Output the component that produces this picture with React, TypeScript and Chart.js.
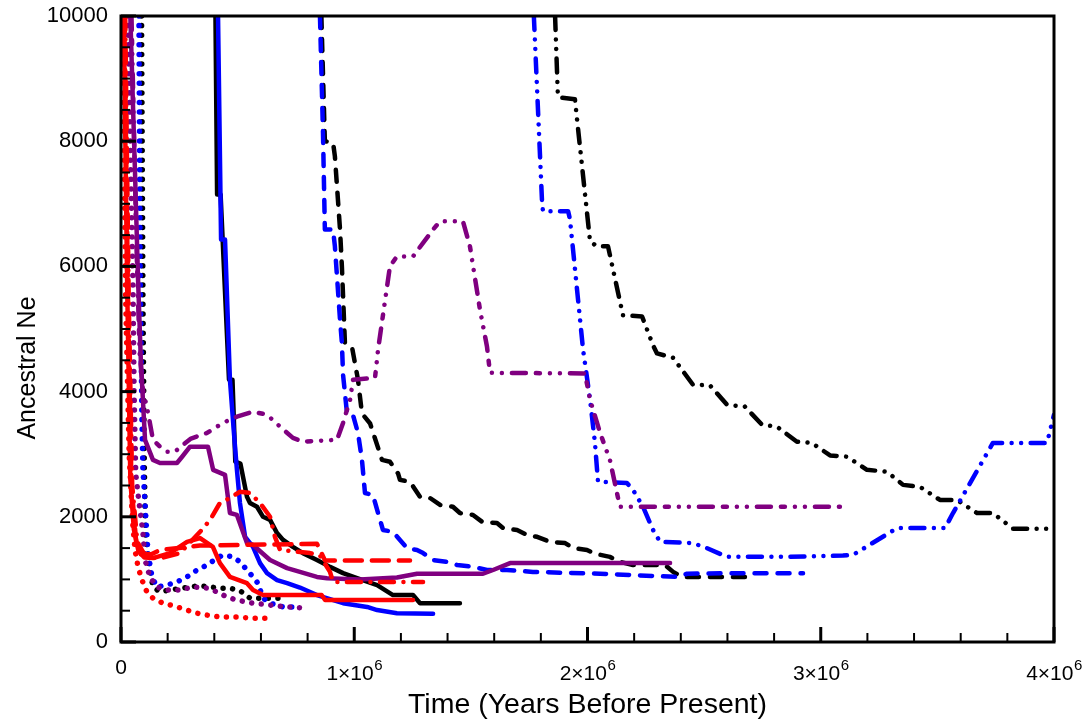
import React, { useEffect, useRef } from 'react';
import { Chart, registerables } from 'chart.js';

Chart.register(...registerables);

const FONT = "'Liberation Sans', Arial, Helvetica, sans-serif";

// ---- axis ticks / labels ----
const xTicks = [0, 1000000, 2000000, 3000000, 4000000];
const xTickBase = ['0', '1×10', '2×10', '3×10', '4×10'];
const xTickSup = ['', '6', '6', '6', '6'];
const yTicks = [0, 2000, 4000, 6000, 8000, 10000];
const yTickLabels = ['0', '2000', '4000', '6000', '8000', '10000'];
const xTitle = 'Time (Years Before Present)';
const yTitle = 'Ancestral Ne';

// ---- series: time (years before present) and ancestral Ne ----
const redSolidT = [12000, 26000, 40000, 55000, 75000, 100000, 137000, 210000, 283000, 339000, 394000, 424000, 467000, 540000, 566000, 609000, 860000, 875000, 1252000];
const redSolidNe = [10000, 5800, 2600, 1800, 1450, 1350, 1340, 1420, 1600, 1660, 1520, 1260, 1040, 940, 830, 750, 750, 670, 670];

const redDashDotT = [18000, 33000, 48000, 70000, 103000, 160000, 253000, 339000, 382000, 424000, 467000, 510000, 553000, 596000, 639000, 660000, 682000, 810000, 853000, 896000, 909000, 1295000];
const redDashDotNe = [10000, 5500, 2500, 1600, 1380, 1330, 1420, 1760, 1950, 2220, 2300, 2400, 2380, 2220, 2000, 1680, 1470, 1420, 1380, 1120, 960, 960];

const redDashedT = [15000, 30000, 45000, 65000, 81000, 130000, 167000, 339000, 840000, 875000, 1239000];
const redDashedNe = [10000, 5500, 2500, 1600, 1400, 1400, 1470, 1540, 1570, 1300, 1300];

const redDottedT = [8000, 20000, 35000, 50000, 60000, 73000, 90000, 111000, 137000, 180000, 223000, 283000, 326000, 369000, 424000, 497000, 566000, 656000];
const redDottedNe = [10000, 5500, 3000, 1900, 1470, 1200, 990, 800, 700, 620, 580, 510, 460, 430, 400, 400, 380, 380];

const purpleSolidT = [40000, 60000, 73000, 85000, 103000, 137000, 167000, 240000, 262000, 296000, 373000, 395000, 446000, 467000, 497000, 540000, 566000, 639000, 712000, 767000, 840000, 883000, 1025000, 1183000, 1269000, 1552000, 1595000, 1668000, 2354000];
const purpleSolidNe = [10000, 7500, 5800, 4500, 3230, 2910, 2860, 2860, 2960, 3120, 3120, 2750, 2670, 2060, 2030, 1580, 1550, 1310, 1180, 1120, 1040, 1020, 1000, 1030, 1090, 1090, 1150, 1260, 1260];

const purpleDashDotT = [45000, 65000, 80000, 94000, 116000, 137000, 167000, 197000, 231000, 266000, 300000, 369000, 437000, 497000, 566000, 626000, 682000, 737000, 780000, 926000, 952000, 982000, 995000, 1089000, 1102000, 1153000, 1183000, 1252000, 1338000, 1368000, 1466000, 1496000, 1539000, 1569000, 1582000, 1989000, 2011000, 2054000, 2096000, 2139000, 3082000];
const purpleDashDotNe = [10000, 6500, 4600, 4030, 3660, 3230, 3120, 3040, 3040, 3150, 3250, 3340, 3500, 3600, 3680, 3630, 3440, 3260, 3200, 3230, 3500, 3870, 4190, 4220, 4670, 6000, 6160, 6160, 6590, 6720, 6720, 6320, 5310, 4720, 4300, 4290, 3870, 3340, 2910, 2160, 2160];

const purpleDottedT = [30000, 42000, 51000, 56000, 63000, 75000, 94000, 103000, 124000, 154000, 197000, 253000, 309000, 369000, 412000, 454000, 497000, 566000, 639000, 712000, 802000];
const purpleDottedNe = [10000, 7500, 5800, 4000, 2700, 2300, 1740, 1310, 1040, 880, 830, 830, 880, 860, 800, 720, 670, 620, 590, 560, 540];

const blueSolidT = [416000, 429000, 446000, 467000, 485000, 497000, 510000, 532000, 566000, 596000, 626000, 669000, 712000, 767000, 840000, 952000, 1055000, 1098000, 1183000, 1338000];
const blueSolidNe = [10000, 6430, 6430, 4190, 3300, 2750, 2220, 1680, 1520, 1260, 1100, 990, 940, 870, 750, 620, 560, 510, 460, 450];

const blueDashedT = [853000, 866000, 874000, 909000, 917000, 939000, 947000, 952000, 969000, 995000, 1016000, 1033000, 1046000, 1080000, 1102000, 1123000, 1166000, 1196000, 1226000, 1269000, 1295000, 1338000, 1398000, 1441000, 1509000, 1569000, 1655000, 1766000, 2054000, 2384000, 2427000, 2624000, 2924000];
const blueDashedNe = [10000, 8130, 6590, 6590, 6320, 5150, 4780, 4270, 3650, 3620, 3340, 2910, 2380, 2350, 2060, 1790, 1760, 1630, 1500, 1470, 1420, 1310, 1280, 1230, 1200, 1150, 1150, 1120, 1090, 1040, 1090, 1100, 1100];

const blueDashDotT = [1770000, 1805000, 1809000, 1917000, 1925000, 1981000, 2011000, 2032000, 2045000, 2169000, 2195000, 2238000, 2281000, 2311000, 2452000, 2512000, 2598000, 2855000, 3095000, 3138000, 3327000, 3533000, 3567000, 3738000, 3970000, 4000000];
const blueDashDotNe = [10000, 7040, 6880, 6880, 6750, 4670, 3870, 3180, 2560, 2540, 2430, 2160, 1790, 1600, 1580, 1500, 1360, 1360, 1380, 1390, 1820, 1820, 2060, 3180, 3180, 3630];

const blueDottedT = [77000, 82000, 90000, 94000, 103000, 116000, 133000, 154000, 197000, 240000, 283000, 326000, 369000, 412000, 437000, 480000, 510000, 540000, 566000, 587000, 609000, 639000, 695000, 755000];
const blueDottedNe = [10000, 6000, 3500, 2750, 2220, 1420, 1040, 880, 910, 960, 1040, 1150, 1230, 1340, 1390, 1360, 1280, 1150, 1040, 940, 700, 620, 560, 560];

const blackSolidT = [405000, 412000, 427000, 463000, 478000, 490000, 512000, 540000, 553000, 583000, 609000, 639000, 669000, 695000, 737000, 780000, 840000, 896000, 952000, 1012000, 1098000, 1166000, 1252000, 1282000, 1453000];
const blackSolidNe = [10000, 7150, 7150, 4190, 4190, 2880, 2850, 2320, 2220, 2160, 2000, 1950, 1740, 1630, 1520, 1420, 1310, 1200, 1100, 1020, 910, 750, 750, 620, 620];

const blackDashedT = [859000, 874000, 909000, 917000, 939000, 947000, 960000, 990000, 1016000, 1033000, 1068000, 1119000, 1153000, 1188000, 1196000, 1239000, 1282000, 1325000, 1368000, 1423000, 1453000, 1509000, 1548000, 1612000, 1638000, 1698000, 1741000, 1784000, 1839000, 1904000, 1938000, 1998000, 2032000, 2096000, 2139000, 2195000, 2332000, 2367000, 2405000, 2688000];
const blackDashedNe = [10000, 8000, 7980, 7760, 6590, 6000, 4780, 4720, 4190, 3650, 3490, 2910, 2880, 2690, 2590, 2560, 2320, 2300, 2190, 2160, 2060, 2030, 1920, 1900, 1820, 1790, 1710, 1680, 1600, 1580, 1500, 1470, 1410, 1360, 1280, 1230, 1230, 1120, 1040, 1040];

const blackDashDotT = [1861000, 1873000, 1882000, 1946000, 2011000, 2041000, 2088000, 2152000, 2234000, 2281000, 2298000, 2367000, 2452000, 2525000, 2598000, 2675000, 2748000, 2812000, 2898000, 2962000, 3040000, 3113000, 3198000, 3284000, 3353000, 3425000, 3511000, 3584000, 3670000, 3738000, 3824000, 4000000];
const blackDashDotNe = [10000, 8720, 8700, 8670, 6400, 6320, 6320, 5220, 5200, 4740, 4610, 4540, 4110, 4100, 3790, 3760, 3470, 3440, 3200, 3180, 2980, 2960, 2750, 2720, 2510, 2480, 2270, 2270, 2060, 2060, 1810, 1810];

const blackDottedT = [88000, 94000, 100000, 105000, 124000, 137000, 167000, 210000, 296000, 339000, 424000, 467000, 510000, 553000, 695000];
const blackDottedNe = [10000, 5500, 2800, 1680, 1150, 880, 800, 830, 880, 900, 860, 860, 820, 700, 700];

// ---- styles ----
const RED = '#ff0000';
const PURPLE = '#800080';
const BLUE = '#0000ff';
const BLACK = '#000000';
const SOLID: number[] = [];
const DASHED = [12, 11];
const RED_DASHED = [17, 10];
const DOTTED = [0.01, 9.6];
const DASH_DOT = [14, 9.5, 0.01, 9.5];
const DASH_DOT_DOT = [14, 9.5, 0.01, 9.5, 0.01, 9.5];
const PURPLE_DASH_DOT = [14, 10, 4, 10, 0.01, 10, 0.01, 10];
const LW = 4.5;
const DOT_LW = 5.5;

function series(label: string, t: number[], ne: number[], color: string, dash: number[], width: number) {
  return {
    label,
    data: t.map((x, i) => ({ x, y: ne[i] })),
    borderColor: color,
    backgroundColor: color,
    borderWidth: width,
    borderDash: dash,
    borderCapStyle: 'round' as const,
    borderJoinStyle: 'round' as const,
    pointRadius: 0,
    pointHoverRadius: 0,
    tension: 0,
    fill: false,
  };
}

const frameTicks = {
  id: 'frameTicks',
  afterDraw(chart: any) {
    const { ctx, chartArea: a, scales } = chart;
    const xs = scales.x;
    const ys = scales.y;
    ctx.save();
    ctx.strokeStyle = '#000';
    ctx.lineCap = 'butt';
    for (let k = 0; k <= 20; k++) {
      const p = xs.getPixelForValue(k * 200000);
      const major = k % 5 === 0;
      ctx.lineWidth = major ? 3 : 2;
      ctx.beginPath();
      ctx.moveTo(p, a.bottom);
      ctx.lineTo(p, a.bottom - (major ? 15 : 9));
      ctx.stroke();
    }
    for (let k = 0; k <= 20; k++) {
      const p = ys.getPixelForValue(k * 500);
      const major = k % 4 === 0;
      ctx.lineWidth = major ? 3 : 2;
      ctx.beginPath();
      ctx.moveTo(a.left, p);
      ctx.lineTo(a.left + (major ? 15 : 9), p);
      ctx.stroke();
    }
    ctx.lineWidth = 3;
    ctx.strokeRect(a.left, a.top, a.right - a.left, a.bottom - a.top);

    // x tick labels with superscript exponent
    ctx.fillStyle = '#000';
    ctx.textBaseline = 'alphabetic';
    ctx.textAlign = 'left';
    xTicks.forEach((v, i) => {
      const px = xs.getPixelForValue(v);
      const base = xTickBase[i];
      const sup = xTickSup[i];
      ctx.font = `21px ${FONT}`;
      const wb = ctx.measureText(base).width;
      ctx.font = `15px ${FONT}`;
      const ws = sup ? ctx.measureText(sup).width : 0;
      const left = px - (wb + ws) / 2;
      const baseY = sup ? a.bottom + 38 : a.bottom + 32;
      ctx.font = `21px ${FONT}`;
      ctx.fillText(base, left, baseY);
      if (sup) {
        ctx.font = `15px ${FONT}`;
        ctx.fillText(sup, left + wb + 0.5, baseY - 10);
      }
    });

    // y axis title
    ctx.save();
    ctx.translate(28.5, (a.top + a.bottom) / 2 + 39);
    ctx.rotate(-Math.PI / 2);
    ctx.textAlign = 'center';
    ctx.textBaseline = 'middle';
    ctx.font = `25px ${FONT}`;
    ctx.fillText(yTitle, 0, 0);
    ctx.restore();

    ctx.restore();
  },
};

export default function App() {
  const ref = useRef<HTMLCanvasElement>(null);

  useEffect(() => {
    const canvas = ref.current;
    if (!canvas) return;
    const datasets = [
      series('red solid', redSolidT, redSolidNe, RED, SOLID, LW),
      series('red dash-dot', redDashDotT, redDashDotNe, RED, DASH_DOT, LW),
      series('red dashed', redDashedT, redDashedNe, RED, RED_DASHED, LW),
      series('red dotted', redDottedT, redDottedNe, RED, DOTTED, DOT_LW),
      series('purple solid', purpleSolidT, purpleSolidNe, PURPLE, SOLID, LW),
      series('purple dash-dot', purpleDashDotT, purpleDashDotNe, PURPLE, PURPLE_DASH_DOT, LW),
      series('purple dotted', purpleDottedT, purpleDottedNe, PURPLE, DOTTED, DOT_LW),
      series('blue solid', blueSolidT, blueSolidNe, BLUE, SOLID, LW),
      series('blue dashed', blueDashedT, blueDashedNe, BLUE, DASHED, LW),
      series('blue dash-dot', blueDashDotT, blueDashDotNe, BLUE, DASH_DOT_DOT, LW),
      series('blue dotted', blueDottedT, blueDottedNe, BLUE, DOTTED, DOT_LW),
      series('black solid', blackSolidT, blackSolidNe, BLACK, SOLID, LW),
      series('black dashed', blackDashedT, blackDashedNe, BLACK, DASHED, LW),
      series('black dash-dot', blackDashDotT, blackDashDotNe, BLACK, DASH_DOT_DOT, LW),
      series('black dotted', blackDottedT, blackDottedNe, BLACK, DOTTED, DOT_LW),
    ];
    const chart = new Chart(canvas, {
      type: 'line',
      data: { datasets },
      options: {
        responsive: false,
        maintainAspectRatio: false,
        devicePixelRatio: 1,
        animation: false,
        events: [],
        layout: { padding: { top: 16, right: 33, left: 0, bottom: 0 } },
        plugins: {
          legend: { display: false },
          tooltip: { enabled: false },
        },
        scales: {
          x: {
            type: 'linear',
            min: 0,
            max: 4000000,
            afterBuildTicks: (s: any) => {
              s.ticks = xTicks.map((v) => ({ value: v }));
            },
            afterFit: (s: any) => {
              s.height = 82;
            },
            grid: { display: false, drawTicks: false },
            border: { display: false },
            ticks: { display: false },
            title: {
              display: true,
              text: xTitle,
              color: '#000',
              font: { family: FONT, size: 28.5, lineHeight: 1 },
              padding: { top: 0, bottom: 5 },
            },
          },
          y: {
            type: 'linear',
            min: 0,
            max: 10000,
            afterBuildTicks: (s: any) => {
              s.ticks = yTicks.map((v) => ({ value: v }));
            },
            afterFit: (s: any) => {
              s.width = 121;
            },
            grid: { display: false, drawTicks: true, tickLength: 13 },
            border: { display: false },
            ticks: {
              autoSkip: false,
              padding: 0,
              color: '#000',
              font: { family: FONT, size: 22 },
              callback: (_v: any, i: number) => yTickLabels[i],
            },
            title: { display: false },
          },
        },
      },
      plugins: [frameTicks],
    } as any);
    return () => chart.destroy();
  }, []);

  return (
    <div style={{ position: 'fixed', left: 0, top: 0, width: 1087, height: 724, background: '#fff' }}>
      <canvas ref={ref} width={1087} height={724} style={{ display: 'block', width: 1087, height: 724 }} />
    </div>
  );
}
